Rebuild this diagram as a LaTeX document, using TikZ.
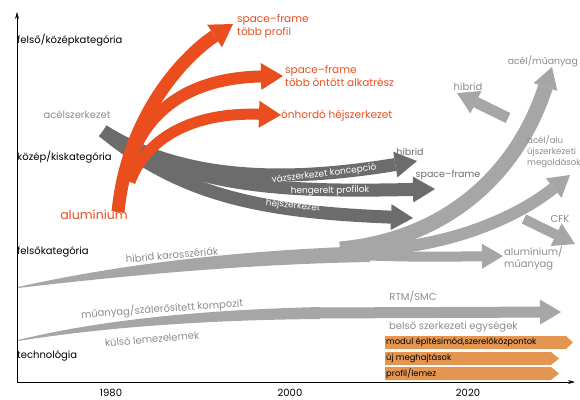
\documentclass[tikz,border=0pt]{standalone}
\usepackage{fontspec}
\setmainfont{Poppins}
\usetikzlibrary{arrows.meta}
\definecolor{orred}{RGB}{234,78,30}
\definecolor{darkgr}{RGB}{108,108,108}
\definecolor{lightgr}{RGB}{166,166,166}
\definecolor{labelgr}{RGB}{140,140,140}
\definecolor{bartan}{RGB}{226,150,82}

\begin{document}
\begin{tikzpicture}[
    x=1pt, y=-1pt,
    axislbl/.style={font=\fontsize{10}{11}\selectfont, anchor=west, inner sep=1pt},
    graylbl/.style={font=\fontsize{10}{11.5}\selectfont, text=labelgr, inner sep=1pt},
    darklbl/.style={font=\fontsize{9.5}{11}\selectfont, text=darkgr, inner sep=1pt},
    orlbl/.style={font=\fontsize{10.5}{13}\selectfont, text=orred, align=left, anchor=west, inner sep=1pt},
    onband/.style={font=\fontsize{9}{10}\selectfont, text=white, inner sep=0pt},
    bartext/.style={font=\fontsize{8.4}{9}\selectfont, anchor=west, inner sep=1pt},
    axis/.style={black, line width=0.8pt, -{Stealth[length=7pt, width=4pt]}},
    orarrow/.style={draw=orred, line width=#1, -{Triangle[length=22pt, width=27pt, line width=0pt]}},
    darkarrow/.style={draw=darkgr, line width=13pt, -{Triangle[length=22pt, width=26pt, line width=0pt]}},
    lightarrow/.style={draw=lightgr, line width=#1, -{Triangle[length=21pt, width=25pt, line width=0pt]}}
]
    \useasboundingbox (0,0) rectangle (580,399);

    % Axes
    \coordinate (origin) at (17,382);
    \coordinate (ytip) at (17,12);
    \coordinate (xtip) at (575,382);
    \draw[axis] (origin) -- (ytip);
    \draw[axis] (origin) -- (xtip);

    \node[axislbl] (felsokozep) at (16,40) {felső/középkategória};
    \node[axislbl] (kozepkis) at (16,157) {közép/kiskategória};
    \node[axislbl] (felso) at (16,252) {felsőkategória};
    \node[axislbl] (techn) at (16,356) {technológia};

    \node[font=\fontsize{10}{11}\selectfont] (y1980) at (111,393) {1980};
    \node[font=\fontsize{10}{11}\selectfont] (y2000) at (290,393) {2000};
    \node[font=\fontsize{10}{11}\selectfont] (y2020) at (468,393) {2020};

    % Light bands (technology)
    \fill[lightgr] (18,340) .. controls (100,320) and (200,310) .. (320,307)
        -- (320,319) .. controls (200,320) and (100,328) .. (18,341) -- cycle;
    \coordinate (rtmStart) at (310,313);
    \coordinate (rtmEnd) at (561,312);
    \draw[lightarrow=11pt] (rtmStart) -- (rtmEnd);

    \node[graylbl, rotate=4] (muanyagKomp) at (162,309) {műanyag/szálerősített kompozit};
    \node[graylbl, rotate=5] (kulso) at (152,339) {külső lemezelemek};
    \node[graylbl] (rtm) at (413,297) {RTM/SMC};
    \node[graylbl, anchor=west] (belso) at (388,327) {belső szerkezeti egységek};

    % Orange bars
    \fill[bartan] (385,336) -- (566,336) -- (573,342.5) -- (566,349) -- (385,349) -- cycle;
    \fill[bartan] (385,352) -- (551,352) -- (559,358.5) -- (551,365) -- (385,365) -- cycle;
    \fill[bartan] (385,367) -- (551,367) -- (559,373.5) -- (551,380) -- (385,380) -- cycle;
    \node[bartext] (modul) at (385,342.5) {modul építésimód,szerelőközpontok};
    \node[bartext] (ujMeghajt) at (385,358.5) {új meghajtások};
    \node[bartext] (profilLemez) at (385,373.5) {profil/lemez};

    % Light bands (upper class)
    \fill[lightgr] (18,287) .. controls (130,262) and (250,250) .. (370,246)
        -- (370,262) .. controls (250,264) and (130,275) .. (18,288) -- cycle;
    \coordinate (karoA) at (340,249);
    \coordinate (karoB) at (350,251);
    \coordinate (karoC) at (350,255);
    \coordinate (acelMuTip) at (552,67);
    \coordinate (acelAluTip) at (570,175);
    \coordinate (alumMuTip) at (503,256);
    \draw[lightarrow=15pt] (karoA) .. controls (440,240) and (515,180) .. (acelMuTip);
    \draw[lightarrow=12pt] (karoB) .. controls (450,250) and (520,215) .. (acelAluTip);
    \draw[lightarrow=10pt] (karoC) .. controls (420,257) .. (alumMuTip);

    \coordinate (cfkStart) at (524,219);
    \coordinate (cfkTip) at (575,244);
    \draw[lightarrow=10pt] (cfkStart) -- (cfkTip);
    \coordinate (hibridStart) at (508,118);
    \coordinate (hibridTip) at (457,93);
    \draw[lightarrow=11pt] (hibridStart) -- (hibridTip);

    \node[graylbl, rotate=5] (hibridKaro) at (172,255) {hibrid karosszériák};
    \node[graylbl, align=left, anchor=north west] (alumMuanyag) at (503,245) {alumínium/\\műanyag};
    \node[graylbl] (cfk) at (560,219) {CFK};
    \node[graylbl, font=\fontsize{8.6}{11}\selectfont, align=left, anchor=north west] (acelAlu) at (526,134) {acél/alu\\újszerkezeti\\megoldások};
    \node[graylbl, font=\fontsize{9.3}{11}\selectfont, anchor=east] (acelMuanyag) at (579,61) {acél/műanyag};
    \node[graylbl] (hibridA) at (468,87) {hibrid};

    % Dark arrows (steel)
    \coordinate (acelStart) at (103,131);
    \coordinate (vazTip) at (417,161);
    \coordinate (hengTip) at (435,189);
    \coordinate (hejTip) at (413,218);
    \draw[darkarrow] (acelStart) .. controls (190,185) and (300,180) .. (vazTip);
    \draw[darkarrow] (acelStart) .. controls (190,190) and (290,192) .. (hengTip);
    \draw[darkarrow] (acelStart) .. controls (180,195) and (260,212) .. (hejTip);

    \node[graylbl] (acel) at (77,115) {acélszerkezet};
    \node[onband, rotate=7] (vaz) at (324,174) {vázszerkezet koncepció};
    \node[onband, rotate=1] (hengerelt) at (330,191) {hengerelt profilok};
    \node[onband, rotate=-6] (hejszerk) at (293,206) {héjszerkezet};
    \node[darklbl] (hibridB) at (410,152) {hibrid};
    \node[darklbl] (spaceframe) at (448,175) {space–frame};

    % Orange arrows (aluminium)
    \coordinate (aluStart) at (118,212);
    \coordinate (aluStartB) at (125,178);
    \coordinate (aluStartC) at (130,182);
    \coordinate (sfProfilTip) at (233,24);
    \coordinate (sfOntottTip) at (283,76);
    \coordinate (onhordoTip) at (281,115);
    \draw[orarrow=13pt] (aluStart) .. controls (128,110) and (190,52) .. (sfProfilTip);
    \draw[orarrow=12pt] (aluStartB) .. controls (140,110) and (190,78) .. (sfOntottTip);
    \draw[orarrow=11pt] (aluStartC) .. controls (145,140) and (190,112) .. (onhordoTip);

    \node[font=\fontsize{12.5}{14}\selectfont, text=orred] (aluminium) at (94,215) {alumínium};
    \node[orlbl] (sfProfil) at (236,26) {space–frame\\több profil};
    \node[orlbl] (sfOntott) at (284,76) {space–frame\\több öntött alkatrész};
    \node[orlbl] (onhordo) at (280,116) {önhordó héjszerkezet};
\end{tikzpicture}
\end{document}
